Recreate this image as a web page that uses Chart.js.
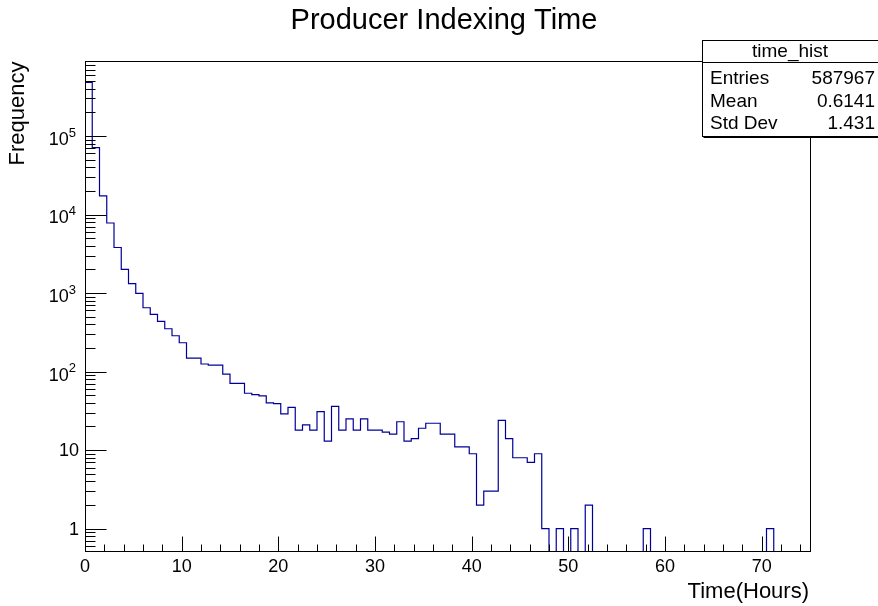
<!DOCTYPE html>
<html>
<head>
<meta charset="utf-8">
<title>Producer Indexing Time</title>
<script src="https://cdn.jsdelivr.net/npm/chart.js@4.4.1/dist/chart.umd.min.js"></script>
<style>
    html, body { margin: 0; padding: 0; background: #fff; }
    #wrap { width: 878px; height: 606px; }
</style>
</head>
<body>
<div id="wrap"><canvas id="timeHist" width="878" height="606"></canvas></div>
<script>
// Texts
const chartTitle = 'Producer Indexing Time';
const xTitle = 'Time(Hours)';
const yTitle = 'Frequency';
const histName = 'time_hist';
const statLabels = ['Entries', 'Mean', 'Std Dev'];
const statValues = ['587967', '0.6141', '1.431'];

// Histogram: 100 bins of 0.75 h over [0, 75]
const binWidth = 0.75;
const binCounts = [
    480000, 71000, 17300, 7800, 3800, 2000, 1320, 990, 650, 535,
    436, 351, 286, 233, 148, 148, 125, 121, 121, 93,
    71, 71, 53, 51, 49, 40, 39, 29, 35, 18,
    21, 18, 31, 13, 36, 18, 25, 18, 25, 18,
    18, 17, 16, 23, 13, 14, 19, 22, 22, 16,
    16, 11, 11, 9, 2, 3, 3, 24, 14, 8,
    8, 7, 9, 1, 0, 1, 0, 1, 0, 2,
    0, 0, 0, 0, 0, 0, 0, 1, 0, 0,
    0, 0, 0, 0, 0, 0, 0, 0, 0, 0,
    0, 0, 0, 0, 1, 0, 0, 0, 0, 0
];

// Axes
const xRange = [0, 75];
const yRange = [0.52, 9.0e5];
const xTicks = [0, 10, 20, 30, 40, 50, 60, 70];
const xMinorStep = 2;
const yTicks = [1, 10, 100, 1000, 10000, 100000];

const FONT = '"Liberation Sans", Arial, Helvetica, sans-serif';
const LINE = '#000099';

// step outline points; empty bins drop below the frame and get clipped (like ROOT on log y)
function histPoints() {
    const floor = yRange[0] / 10;
    const pts = [{ x: xRange[0], y: floor }];
    binCounts.forEach((c, i) => pts.push({ x: i * binWidth, y: c > 0 ? c : floor }));
    const last = binCounts[binCounts.length - 1];
    pts.push({ x: binCounts.length * binWidth, y: last > 0 ? last : floor });
    return pts;
}

const rootFrame = {
    id: 'rootFrame',
    afterDraw(chart) {
        const { ctx, chartArea: a, scales: { x, y } } = chart;
        const L = Math.round(a.left) + 0.5, R = Math.round(a.right) + 0.5;
        const T = Math.round(a.top) + 0.5, B = Math.round(a.bottom) + 0.5;
        ctx.save();
        ctx.strokeStyle = '#000';
        ctx.lineWidth = 1;
        ctx.strokeRect(L, T, R - L, B - T);

        // x ticks (inside)
        ctx.beginPath();
        for (let v = xRange[0]; v < xRange[1]; v += xMinorStep) {
            const px = Math.round(x.getPixelForValue(v)) + 0.5;
            const len = xTicks.includes(v) ? 15 : 7;
            ctx.moveTo(px, B);
            ctx.lineTo(px, B - len);
        }
        // y ticks (log, inside)
        for (let k = -1; k <= 5; k++) {
            for (let m = 1; m <= 9; m++) {
                const v = m * Math.pow(10, k);
                if (v < yRange[0] || v > yRange[1]) continue;
                const py = Math.round(y.getPixelForValue(v)) + 0.5;
                const len = m === 1 ? 21 : 10;
                ctx.moveTo(L, py);
                ctx.lineTo(L + len, py);
            }
        }
        ctx.stroke();

        // y labels
        ctx.fillStyle = '#000';
        ctx.textAlign = 'right';
        ctx.textBaseline = 'middle';
        yTicks.forEach(v => {
            const py = y.getPixelForValue(v);
            const e = Math.round(Math.log10(v));
            if (e <= 1) {
                ctx.font = '18px ' + FONT;
                ctx.fillText(String(v), 79, py + 1);
            } else {
                ctx.font = '13px ' + FONT;
                const ew = ctx.measureText(String(e)).width;
                ctx.fillText(String(e), 76, py - 3);
                ctx.font = '18px ' + FONT;
                ctx.fillText('10', 76 - ew, py + 4);
            }
        });

        // title + axis titles
        ctx.textBaseline = 'alphabetic';
        ctx.font = '29px ' + FONT;
        ctx.textAlign = 'center';
        ctx.fillText(chartTitle, 444, 29);
        ctx.font = '22px ' + FONT;
        ctx.textAlign = 'right';
        ctx.fillText(xTitle, 809, 598);
        ctx.save();
        ctx.translate(24, T);
        ctx.rotate(-Math.PI / 2);
        ctx.textAlign = 'right';
        ctx.fillText(yTitle, 0, 0);
        ctx.restore();

        // stats box
        const bx = 702.5, by = 40.5, bw = 180, bh = 96;
        ctx.fillStyle = '#fff';
        ctx.fillRect(bx, by, bw, bh);
        ctx.strokeRect(bx, by, bw, bh);
        ctx.beginPath();
        ctx.moveTo(bx, 62.5);
        ctx.lineTo(bx + bw, 62.5);
        ctx.moveTo(bx + 1, by + bh + 1);
        ctx.lineTo(bx + bw, by + bh + 1);
        ctx.stroke();
        ctx.fillStyle = '#000';
        ctx.font = '19px ' + FONT;
        ctx.textBaseline = 'middle';
        ctx.textAlign = 'center';
        ctx.fillText(histName, 790, 52);
        statLabels.forEach((lab, i) => {
            const ty = 79 + i * 22.5;
            ctx.textAlign = 'left';
            ctx.fillText(lab, 710, ty);
            ctx.textAlign = 'right';
            ctx.fillText(statValues[i], 875, ty);
        });
        ctx.restore();
    }
};

new Chart(document.getElementById('timeHist'), {
    type: 'line',
    data: {
        datasets: [{
            label: histName,
            data: histPoints(),
            stepped: true,
            borderColor: LINE,
            borderWidth: 1.2,
            pointRadius: 0,
            fill: false
        }]
    },
    options: {
        responsive: false,
        animation: false,
        devicePixelRatio: 1,
        layout: { padding: { top: 61, right: 68, left: 0, bottom: 0 } },
        plugins: { legend: { display: false }, tooltip: { enabled: false } },
        scales: {
            x: {
                type: 'linear',
                min: xRange[0],
                max: xRange[1],
                grid: { display: false, drawTicks: false },
                border: { display: false },
                afterBuildTicks: s => { s.ticks = xTicks.map(v => ({ value: v })); },
                afterFit: s => { s.height = 55; },
                ticks: { color: '#000', padding: 5, maxRotation: 0, font: { size: 18, family: FONT } }
            },
            y: {
                type: 'logarithmic',
                min: yRange[0],
                max: yRange[1],
                grid: { display: false, drawTicks: false },
                border: { display: false },
                ticks: { display: false },
                afterFit: s => { s.width = 85; }
            }
        }
    },
    plugins: [rootFrame]
});
</script>
</body>
</html>
